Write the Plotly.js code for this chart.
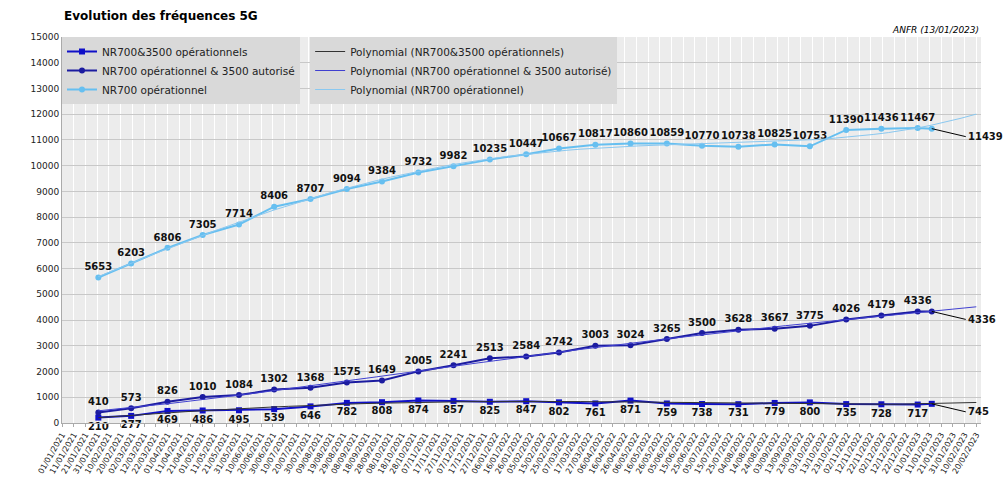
<!DOCTYPE html>
<html><head><meta charset="utf-8">
<script src="https://cdn.plot.ly/plotly-3.0.1.min.js"></script>
<style>body{margin:0;background:#fff}#c{width:1003px;height:499px}</style>
</head><body><div id="c"></div>
<script>
const dates = ["2021-02-01","2021-03-01","2021-04-01","2021-05-01","2021-06-01","2021-07-01","2021-08-01","2021-09-01","2021-10-01","2021-11-01","2021-12-01","2022-01-01","2022-02-01","2022-03-01","2022-04-01","2022-05-01","2022-06-01","2022-07-01","2022-08-01","2022-09-01","2022-10-01","2022-11-01","2022-12-01","2023-01-01","2023-01-13"];
const nr700_3500 = [210,277,469,486,495,539,646,782,808,874,857,825,847,802,761,871,759,738,731,779,800,735,728,717,745];
const nr700_aut = [410,573,826,1010,1084,1302,1368,1575,1649,2005,2241,2513,2584,2742,3003,3024,3265,3500,3628,3667,3775,4026,4179,4336,4336];
const nr700 = [5653,6203,6806,7305,7714,8406,8707,9094,9384,9732,9982,10235,10447,10667,10817,10860,10859,10770,10738,10825,10753,11390,11436,11467,11439];

// least-squares polynomial trend (like a spreadsheet trendline)
function polyTrend(ys, deg, endDate) {
  const t0 = Date.parse(dates[0]), span = Date.parse(endDate) - t0;
  const xs = dates.map(d => (Date.parse(d) - t0) / span);
  const n = deg + 1, A = [], b = [];
  for (let i = 0; i < n; i++) {
    A.push([]); b.push(0);
    for (let j = 0; j < n; j++) A[i].push(xs.reduce((s, x) => s + Math.pow(x, i + j), 0));
    b[i] = xs.reduce((s, x, k) => s + Math.pow(x, i) * ys[k], 0);
  }
  for (let i = 0; i < n; i++) {
    for (let k = i + 1; k < n; k++) {
      const f = A[k][i] / A[i][i];
      for (let j = i; j < n; j++) A[k][j] -= f * A[i][j];
      b[k] -= f * b[i];
    }
  }
  const c = new Array(n).fill(0);
  for (let i = n - 1; i >= 0; i--) {
    let s = b[i];
    for (let j = i + 1; j < n; j++) s -= A[i][j] * c[j];
    c[i] = s / A[i][i];
  }
  const tx = [], ty = [];
  for (let k = 0; k <= 60; k++) {
    const x = k / 60;
    tx.push(new Date(t0 + x * span).toISOString().slice(0, 10));
    ty.push(c.reduce((s, ci, i) => s + ci * Math.pow(x, i), 0));
  }
  return { x: tx, y: ty };
}

const cols = ["#1010c8", "#1c1ca0", "#66bff0"];
const series = [
  { name: "NR700&3500 opérationnels", y: nr700_3500, pos: "bottom center", sym: "square" },
  { name: "NR700 opérationnel & 3500 autorisé", y: nr700_aut, pos: "top center", sym: "circle" },
  { name: "NR700 opérationnel", y: nr700, pos: "top center", sym: "circle" },
];
const last = dates.length - 1;
const traces = [];
const notes = [];
series.forEach((s, i) => {
  traces.push({
    x: dates, y: s.y, type: "scatter", mode: "lines+markers+text", name: s.name,
    text: s.y.map((v, k) => (k === last ? "" : String(v))), textposition: s.pos,
    textfont: { family: "DejaVu Sans", size: 10, color: "#111", weight: "bold" },
    line: { color: cols[i], width: 2 }, marker: { color: cols[i], size: 6, symbol: s.sym },
    cliponaxis: false, legend: "legend",
  });
  // last value label pulled to the right with a leader line
  notes.push({
    x: dates[last], y: s.y[last], text: "<b>" + s.y[last] + "</b>", showarrow: true,
    arrowhead: 0, arrowwidth: 1, arrowcolor: "#000", ax: 34, ay: 8, xanchor: "left",
    font: { size: 10, color: "#111" },
  });
});
const trendCols = ["#333333", "#4040d0", "#8ac8f0"];
series.forEach((s, i) => {
  const t = polyTrend(s.y, 4, "2023-02-20");
  traces.push({
    x: t.x, y: t.y, type: "scatter", mode: "lines", name: "Polynomial (" + s.name + ")",
    line: { color: trendCols[i], width: 1 }, hoverinfo: "skip", legend: "legend2",
  });
});

const layout = {
  width: 1003, height: 499,
  margin: { l: 62, r: 22, t: 37, b: 76 },
  paper_bgcolor: "#fff", plot_bgcolor: "#ececec",
  font: { family: "DejaVu Sans", size: 10, color: "#222" },
  showlegend: true,
  legend: { x: 0, y: 1, xanchor: "left", yanchor: "top", bgcolor: "#d9d9d9", font: { size: 10.5 }, tracegroupgap: 0 },
  legend2: { x: 0.27, y: 1, xanchor: "left", yanchor: "top", bgcolor: "#d9d9d9", font: { size: 10.5 }, tracegroupgap: 0 },
  xaxis: {
    type: "date", range: ["2021-01-01", "2023-02-24"], tick0: "2021-01-01", dtick: 864000000,
    tickformat: "%d/%m/%Y", tickangle: -60, tickfont: { size: 8 },
    showgrid: true, gridcolor: "#ffffff", linecolor: "#aaa", ticks: "outside", tickcolor: "#aaa", ticklen: 3,
  },
  yaxis: {
    range: [0, 15000], dtick: 1000, tickformat: "d", tickfont: { size: 9 },
    showgrid: true, gridcolor: "#c8c8c8", linecolor: "#aaa", zeroline: false,
  },
  annotations: notes.concat([
    { text: "<b>Evolution des fréquences 5G</b>", xref: "paper", yref: "paper", x: 0, y: 1.055, xanchor: "left", yanchor: "middle", showarrow: false, font: { size: 12, color: "#000" } },
    { text: "<i>ANFR (13/01/2023)</i>", xref: "paper", yref: "paper", x: 1, y: 1.0, xanchor: "right", yanchor: "bottom", showarrow: false, font: { size: 9, color: "#000" } },
  ]),
};
Plotly.newPlot("c", traces, layout, { displayModeBar: false, staticPlot: true });
</script>
</body></html>
